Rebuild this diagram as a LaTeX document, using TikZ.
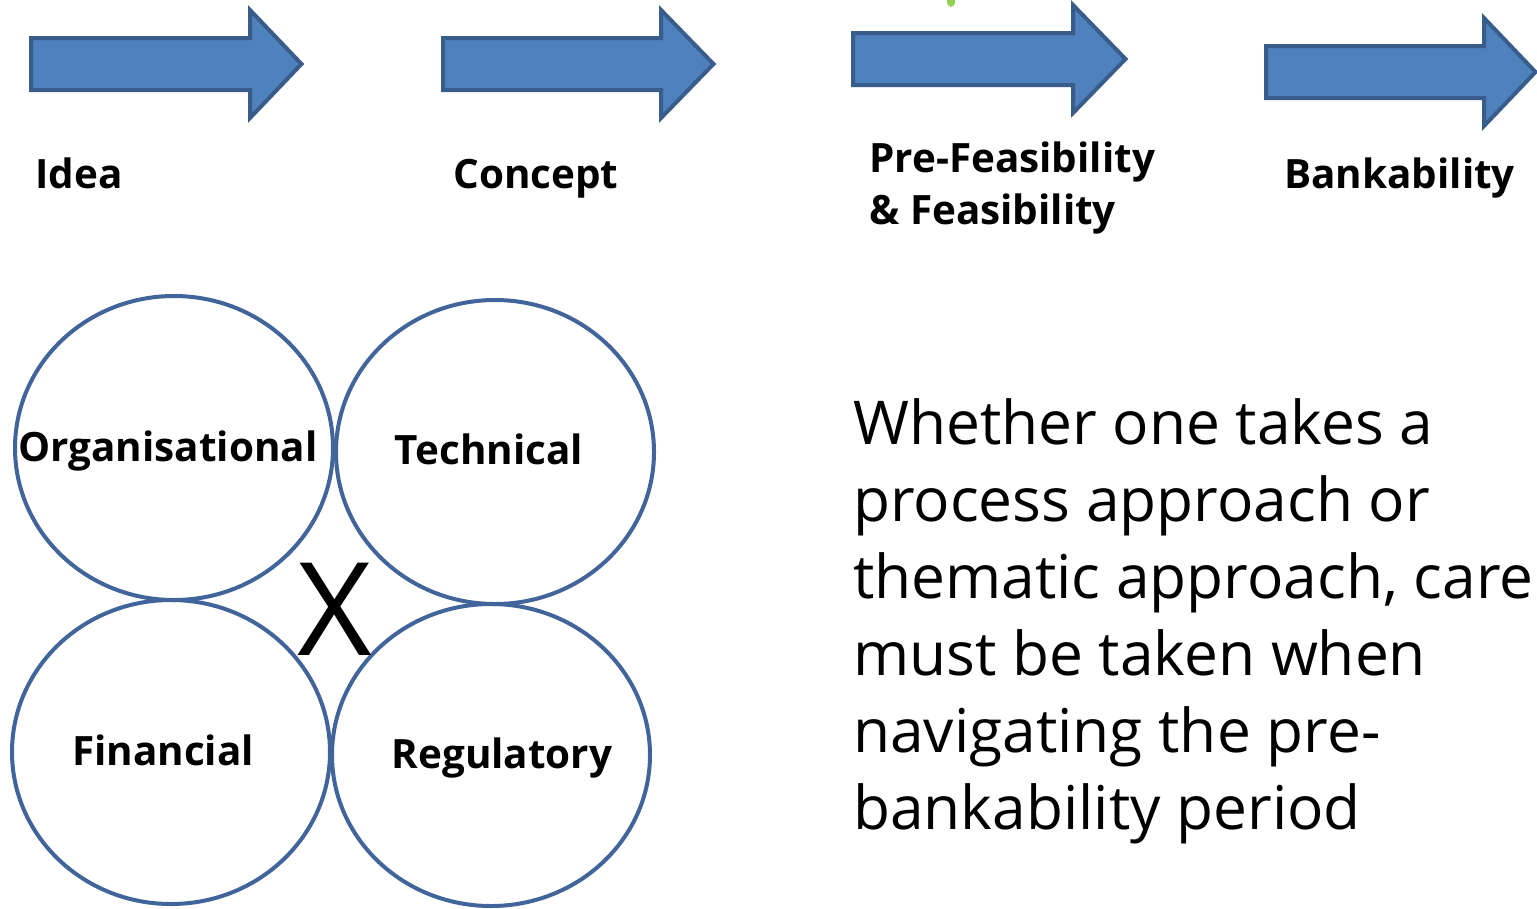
\documentclass[tikz,border=0pt]{standalone}
\usepackage{fontspec}
\setmainfont{Open Sans}
\begin{document}
\begin{tikzpicture}[x=0.75pt,y=-0.75pt,
  blockarrow/.style={fill=arrowfill,draw=arrowdraw,line width=3pt,line join=miter},
  stage/.style={font=\bfseries\fontsize{30.3}{39}\selectfont,anchor=base west,inner sep=0pt,align=left},
  area/.style={draw=circdraw,line width=3pt},
  arealabel/.style={font=\bfseries\fontsize{30.3}{35}\selectfont,inner sep=0pt,anchor=base}]
\definecolor{arrowfill}{HTML}{4F81BD}
\definecolor{arrowdraw}{HTML}{385D8A}
\definecolor{circdraw}{HTML}{41659A}
\definecolor{greenmark}{HTML}{92D050}
\useasboundingbox[fill=white] (0,0) rectangle (1537,908);

% arrows
\foreach \bx/\hx/\tx/\yc [count=\i] in {31/250/303/64, 443/661/715/64, 853/1073/1127/59, 1266/1484/1537/72}{
  \draw[blockarrow] (\bx,\yc-26) -- (\hx,\yc-26) -- (\hx,\yc-54) -- (\tx-1.5,\yc) -- (\hx,\yc+54) -- (\hx,\yc+26) -- (\bx,\yc+26) -- cycle;
}
\fill[greenmark] (951,1) ellipse (4 and 6);

% stage labels
\node[stage] (idea) at (35,188) {Idea};
\node[stage] (concept) at (453,188) {Concept};
\node[stage] (pre) at (869,172) {Pre-Feasibility};
\node[stage] (feas) at (869,224) {\& Feasibility};
\node[stage] (bank) at (1284,188) {Bankability};

% circles
\draw[area] (174,448) ellipse (159 and 152);
\draw[area] (495,452) ellipse (159 and 152);
\draw[area] (171,752) ellipse (159 and 152);
\draw[area] (491,755) ellipse (159 and 151);

\node[arealabel] (org) at (168,461) {Organisational};
\node[arealabel] (tech) at (489,464) {Technical};
\node[arealabel] (fin) at (163,765) {Financial};
\node[arealabel] (reg) at (502,768) {Regulatory};

\node[font=\fontsize{97}{97}\selectfont,inner sep=0pt,anchor=base] (x) at (335,655) {X};

% body text
\node[anchor=base west,inner sep=0pt,align=left,font=\fontsize{45.3}{57.75}\selectfont] (body) at (853,829)
 {Whether one takes a\\process approach or\\thematic approach, care\\must be taken when\\navigating the pre-\\bankability period};
\end{tikzpicture}
\end{document}
